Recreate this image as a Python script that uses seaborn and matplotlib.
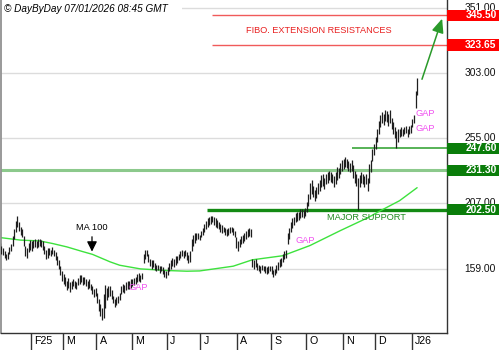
import numpy as np
import pandas as pd
import matplotlib
matplotlib.use("Agg")
import matplotlib.pyplot as plt
import matplotlib.transforms as mtransforms
from matplotlib.patches import Rectangle
import seaborn as sns

# ---- data ----
# daily bar lows / highs, one entry per trading day starting 2 Jan 2025
lows = [174, 172, 173, 170, 169, 167, 165, 166, 170, 172, 176, 181, 186, 190, 187, 184, 182, 176, 168, 167, 171, 173,
        172, 174, 175, 174, 175, 176, 175, 173, 170, 166, 167, 169, 168, 170, 168, 165, 162, 159, 154, 150,
        148, 146, 143, 145, 142, 144, 146, 145, 144, 147, 148, 149, 147, 148, 146, 144, 145, 143, 140, 138, 139,
        134, 128, 124, 121, 123, 130, 136, 138, 139, 137, 134, 131, 132, 134, 136, 140, 142, 141, 143, 144, 144, 145,
        146, 147, 148, 149, 150, 149, 151, 163, 166, 168, 164, 161, 159, 160, 158, 157, 158, 156, 157, 155, 153, 152,
        154, 157, 159, 161, 160, 162, 163, 165, 167, 168, 167, 168, 165, 163, 164, 172, 176, 178, 180, 181, 180,
        182, 184, 186, 188, 190, 191, 192, 193, 191, 190, 189, 188, 186, 185, 186, 184, 183, 184, 185, 186, 184, 182, 174,
        172, 175, 177, 178, 179, 181, 182, 183, 182, 160, 159, 160, 158, 157, 156, 158, 157, 156, 155, 156, 157,
        155, 153, 154, 156, 158, 160, 161, 164, 166, 167, 177, 181, 186, 189, 191, 193, 194, 195, 196, 197, 196, 198,
        201, 205, 210, 214, 212, 209, 211, 214, 216, 219, 220, 218, 221, 222, 224, 223, 222, 219, 221, 224, 226, 229, 231,
        232, 234, 233, 231, 230, 231, 226, 222, 220, 202, 219, 222, 221, 219, 221, 216, 222, 230, 238, 243,
        247, 252, 258, 263, 266, 265, 268, 267, 264, 266, 262, 258, 255, 248, 252, 256, 257, 257, 258, 259, 256, 258, 259,
        263, 266, 277, 287]
highs = [179, 177, 178, 176, 174, 172, 170, 171, 175, 177, 183, 188, 194, 198, 193, 190, 188, 183, 176, 174, 178, 180,
         179, 180, 181, 179, 181, 181, 180, 179, 176, 173, 174, 174, 173, 175, 173, 171, 168, 165, 161, 157,
         155, 153, 150, 152, 149, 150, 151, 150, 149, 152, 154, 154, 153, 153, 151, 150, 151, 148, 146, 144, 145,
         141, 137, 133, 130, 140, 147, 145, 146, 146, 143, 139, 137, 138, 139, 141, 146, 148, 147, 149, 150, 150, 151,
         151, 152, 153, 155, 156, 154, 156, 170, 173, 173, 170, 166, 165, 165, 163, 162, 162, 161, 161, 160, 158, 157,
         160, 163, 165, 167, 166, 168, 168, 170, 172, 173, 172, 173, 171, 169, 172, 181, 184, 185, 185, 185, 184,
         187, 189, 192, 194, 196, 197, 198, 198, 197, 196, 195, 193, 192, 191, 190, 189, 188, 189, 190, 190, 189, 187, 182,
         179, 181, 183, 184, 185, 187, 188, 189, 188, 166, 165, 166, 163, 162, 161, 162, 161, 161, 160, 161, 161,
         161, 158, 159, 162, 164, 166, 167, 170, 172, 173, 185, 189, 193, 196, 197, 200, 201, 201, 203, 203, 202, 204,
         208, 214, 222, 224, 220, 217, 219, 222, 224, 228, 229, 226, 229, 230, 231, 230, 229, 227, 230, 234, 233, 237, 239,
         240, 241, 240, 238, 237, 239, 235, 231, 229, 226, 228, 230, 229, 227, 229, 226, 236, 239, 247, 251,
         256, 262, 268, 272, 274, 273, 276, 275, 273, 276, 270, 267, 263, 260, 262, 262, 263, 262, 263, 264, 262, 264, 265,
         269, 272, 290, 299]

# 100-day moving average, sampled (trading-day index, value)
ma_idx = [0, 15, 27, 35, 44, 54, 60, 71, 77, 90, 107, 119, 127, 133, 148, 160, 179, 196, 215, 232, 240, 252, 263]
ma_val = [182.2, 180.0, 179.4, 177.5, 175.0, 171.5, 169.5, 164.0, 161.5, 158.8, 157.6, 157.1, 157.3, 158.3,
          160.8, 165.5, 168.5, 176.0, 187.0, 196.4, 201.6, 209.0, 218.6]

month_labels = ["F25", "M", "A", "M", "J", "J", "A", "S", "O", "N", "D", "J26"]
month_starts = [22, 42, 63, 85, 107, 128, 151, 172, 194, 217, 237, 260]
grid_levels = [159, 207, 255, 303, 351]
resistance_levels = [345.50, 323.65]
support_levels = [247.60, 231.30, 202.50]

# ---- style ----
sns.set_theme(style="white")
plt.rcParams["font.family"] = ["Liberation Sans", "DejaVu Sans"]

W, H = 500, 350
fig = plt.figure(figsize=(5, 3.5), dpi=100)
ax_right_px = 446.7
ax = fig.add_axes([0.002, 17 / H, (ax_right_px - 1) / W, 333 / H])
XMIN, XMAX = 2.8, 281.5
YMIN, YMAX = 111.6, 356.8
ax.set_xlim(XMIN, XMAX)
ax.set_ylim(YMIN, YMAX)

# grid
ax.hlines(grid_levels, XMIN, XMAX, color="#dcdcdc", lw=1.0, zorder=0)

# resistance / support lines
ax.hlines(resistance_levels, 134.8, XMAX, color="#f05a5a", lw=1.0, zorder=1)
ax.hlines(support_levels[0], 222.3, XMAX, color="#3aa53a", lw=1.2, zorder=1)
ax.hlines(support_levels[1], XMIN, XMAX, color="#8cc98c", lw=2.2, zorder=1)
ax.hlines(support_levels[2], 131.6, XMAX, color="#138a13", lw=2.4, zorder=1)

# price bars
days = np.arange(len(lows))
ax.vlines(days, lows, highs, color="#1e1e1e", lw=0.9, zorder=3)

# moving average
ma_df = pd.DataFrame({"day": ma_idx, "ma": ma_val})
sns.lineplot(data=ma_df, x="day", y="ma", ax=ax, color="#3de23d", lw=1.0, zorder=2)
ax.set_xlabel("")
ax.set_ylabel("")

# annotations
ax.annotate("", xy=(59.7, 169.5), xytext=(59.7, 184.5),
            arrowprops=dict(arrowstyle="-|>,head_width=0.25,head_length=0.5", color="black", lw=0.9))
ax.text(59.7, 189.0, "MA 100", ha="center", va="center", fontsize=6.7, color="black")
gap_color = "#f050f0"
ax.text(88.5, 145.0, "GAP", ha="center", va="center", fontsize=6.7, color=gap_color)
ax.text(193.0, 180.0, "GAP", ha="center", va="center", fontsize=6.7, color=gap_color)
ax.text(262.3, 273.0, "GAP", ha="left", va="center", fontsize=6.7, color=gap_color)
ax.text(262.3, 262.5, "GAP", ha="left", va="center", fontsize=6.7, color=gap_color)
ax.text(231.0, 197.0, "MAJOR SUPPORT", ha="center", va="center", fontsize=6.7, color="#1f8a1f")
ax.text(201.5, 334.2, "FIBO. EXTENSION RESISTANCES", ha="center", va="center", fontsize=6.6, color="#e82020")
ax.annotate("", xy=(279.2, 345.0), xytext=(265.5, 296.5),
            arrowprops=dict(arrowstyle="-|>,head_width=0.3,head_length=0.7", color="#2a9a2a", lw=1.1))

# spines
ax.spines["top"].set_visible(False)
ax.spines["left"].set_color("#888888")
ax.spines["left"].set_linewidth(1.2)
ax.spines["right"].set_color("#333333")
ax.spines["bottom"].set_color("#333333")
ax.spines["right"].set_linewidth(1.0)
ax.spines["bottom"].set_linewidth(1.0)

# x axis: month separators + labels
ax.set_yticks([])
ax.set_xticks([m - 0.5 for m in month_starts])
ax.tick_params(axis="x", length=12.3, width=1.0, color="#333333", direction="out",
               labelbottom=False, bottom=True)
xtr = mtransforms.blended_transform_factory(ax.transData, ax.transAxes)
for m, lab in zip(month_starts, month_labels):
    ax.text(m - 0.5 + 2.0, -8.5 / 333, lab, transform=xtr, ha="left", va="center",
            fontsize=7.7, color="black")

# right price scale
ytr = mtransforms.blended_transform_factory(fig.transFigure, ax.transData)
for g in grid_levels:
    ax.text(496 / W, g, f"{g:.2f}", transform=ytr, ha="right", va="center",
            fontsize=7.4, color="#111111", clip_on=False, zorder=1)
box_h = 11.4 / 1.358
for lvl, col in [(v, "#ff0000") for v in resistance_levels] + [(v, "#0a7d0a") for v in support_levels]:
    ax.add_patch(Rectangle((447.3 / W, lvl - box_h / 2), 52 / W, box_h, transform=ytr,
                           facecolor=col, edgecolor="none", clip_on=False, zorder=5))
    ax.text(496.5 / W, lvl, f"{lvl:.2f}", transform=ytr, ha="right", va="center",
            fontsize=7.4, color="white", fontweight="bold", clip_on=False, zorder=6)

# header
fig.patches.append(Rectangle((2 / W, 1 - 16 / H), 180 / W, 16 / H, transform=fig.transFigure,
                             facecolor="white", edgecolor="none", zorder=10))
fig.text(4 / W, 1 - 9 / H, "\u00a9 DayByDay 07/01/2026 08:45 GMT", ha="left", va="center",
         fontsize=7.2, style="italic", color="black", zorder=11)

fig.savefig("out.png", dpi=100)
